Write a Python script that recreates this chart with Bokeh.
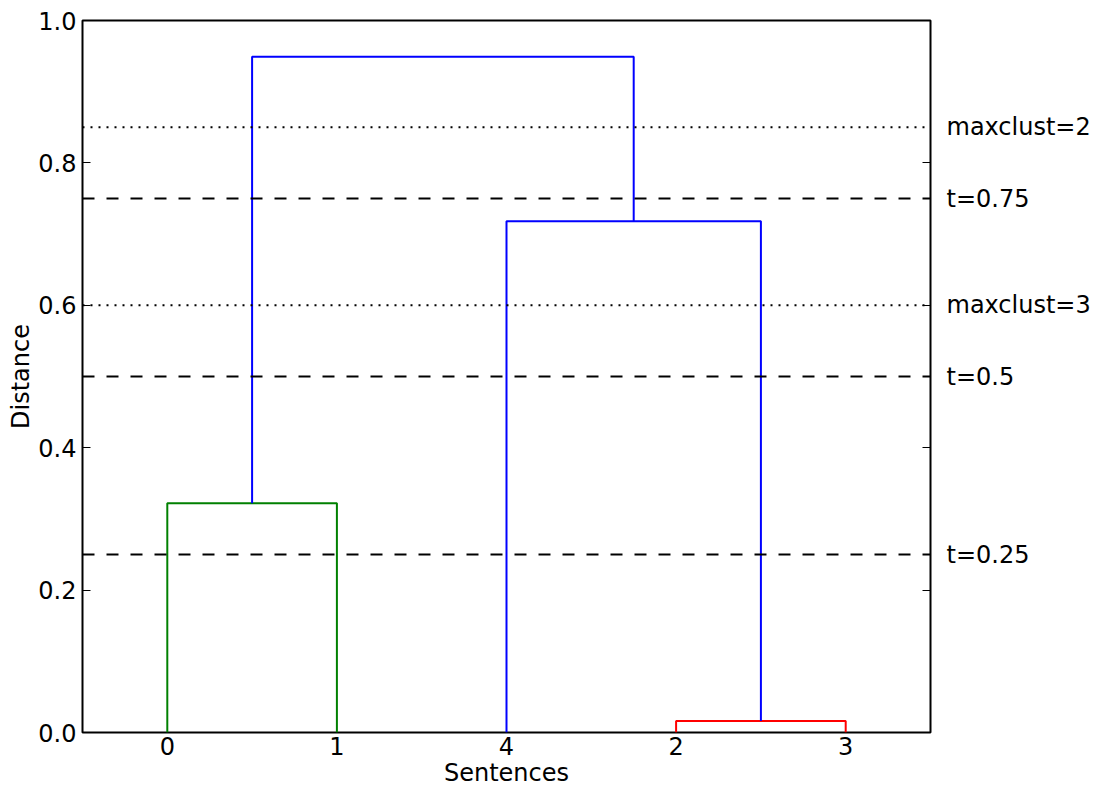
from bokeh.plotting import figure
from bokeh.models import Range1d, FixedTicker, LinearAxis, Span, CustomJSTickFormatter, NumeralTickFormatter
from bokeh.embed import file_html
from bokeh.resources import INLINE

# Dendrogram data (scipy-style icoord / dcoord)
leaf_labels = ["0", "1", "4", "2", "3"]
leaf_positions = [5, 15, 25, 35, 45]
icoord = [[35, 35, 45, 45], [5, 5, 15, 15], [25, 25, 40, 40], [10, 10, 32.5, 32.5]]
dcoord = [[0.0, 0.016, 0.016, 0.0], [0.0, 0.322, 0.322, 0.0],
          [0.0, 0.718, 0.718, 0.016], [0.322, 0.949, 0.949, 0.718]]
link_colors = ["#ff0000", "#008000", "#0000ff", "#0000ff"]

thresholds = [0.85, 0.75, 0.6, 0.5, 0.25]
threshold_labels = ["maxclust=2", "t=0.75", "maxclust=3", "t=0.5", "t=0.25"]
threshold_styles = ["dotted", "dashed", "dotted", "dashed", "dashed"]

y_ticks = [0.0, 0.2, 0.4, 0.6, 0.8, 1.0]

FONT = "DejaVu Sans"
FS = "24px"

p = figure(width=1098, height=789, output_backend="svg", toolbar_location=None,
           x_range=Range1d(0, 50), y_range=Range1d(0, 1),
           min_border_left=82, min_border_right=168, min_border_top=20, min_border_bottom=57,
           x_axis_label="Sentences", y_axis_label="Distance")
p.grid.visible = False
p.outline_line_color = "black"
p.outline_line_width = 2
p.outline_line_alpha = 1
p.background_fill_color = "white"
p.border_fill_color = "white"

# dendrogram links
p.multi_line(xs=icoord, ys=dcoord, line_color=link_colors, line_width=2)

# threshold lines
for t, sty in zip(thresholds, threshold_styles):
    dash = "2 6" if sty == "dotted" else "12 12"
    p.add_layout(Span(location=t, dimension="width", line_color="black",
                      line_width=2, line_dash=dash))

# x axis
xa = p.xaxis[0]
xa.ticker = FixedTicker(ticks=leaf_positions)
xa.major_label_overrides = {pos: lab for pos, lab in zip(leaf_positions, leaf_labels)}
xa.major_tick_in = 0
xa.major_tick_out = 0
xa.minor_tick_line_color = None
xa.axis_line_color = None
xa.major_label_standoff = 4
xa.axis_label_standoff = 1

# y axis
ya = p.yaxis[0]
ya.ticker = FixedTicker(ticks=y_ticks)
ya.formatter = NumeralTickFormatter(format="0.0")
ya.major_tick_in = 8
ya.major_tick_out = 0
ya.major_tick_line_width = 1
ya.minor_tick_line_color = None
ya.axis_line_color = None
ya.major_label_standoff = 6
ya.axis_label_standoff = 0

for ax in (xa, ya):
    ax.major_label_text_font = FONT
    ax.major_label_text_font_size = FS
    ax.major_label_text_color = "black"
    ax.axis_label_text_font = FONT
    ax.axis_label_text_font_size = FS
    ax.axis_label_text_font_style = "normal"
    ax.axis_label_text_color = "black"

# right-side inward ticks
ra = LinearAxis(ticker=FixedTicker(ticks=y_ticks),
                formatter=CustomJSTickFormatter(code="return ''"))
ra.major_tick_in = 8
ra.major_tick_out = 0
ra.minor_tick_line_color = None
ra.axis_line_color = None
ra.major_label_standoff = 0
ra.major_label_text_font_size = "1px"
p.add_layout(ra, "right")

# threshold labels on the right
la = LinearAxis(ticker=FixedTicker(ticks=thresholds))
la.major_label_overrides = {t: lab for t, lab in zip(thresholds, threshold_labels)}
la.major_tick_in = 0
la.major_tick_out = 0
la.minor_tick_line_color = None
la.axis_line_color = None
la.major_label_standoff = 16
la.major_label_text_font = FONT
la.major_label_text_font_size = FS
la.major_label_text_color = "black"
p.add_layout(la, "right")

open("out.html", "w").write(file_html(p, INLINE))
